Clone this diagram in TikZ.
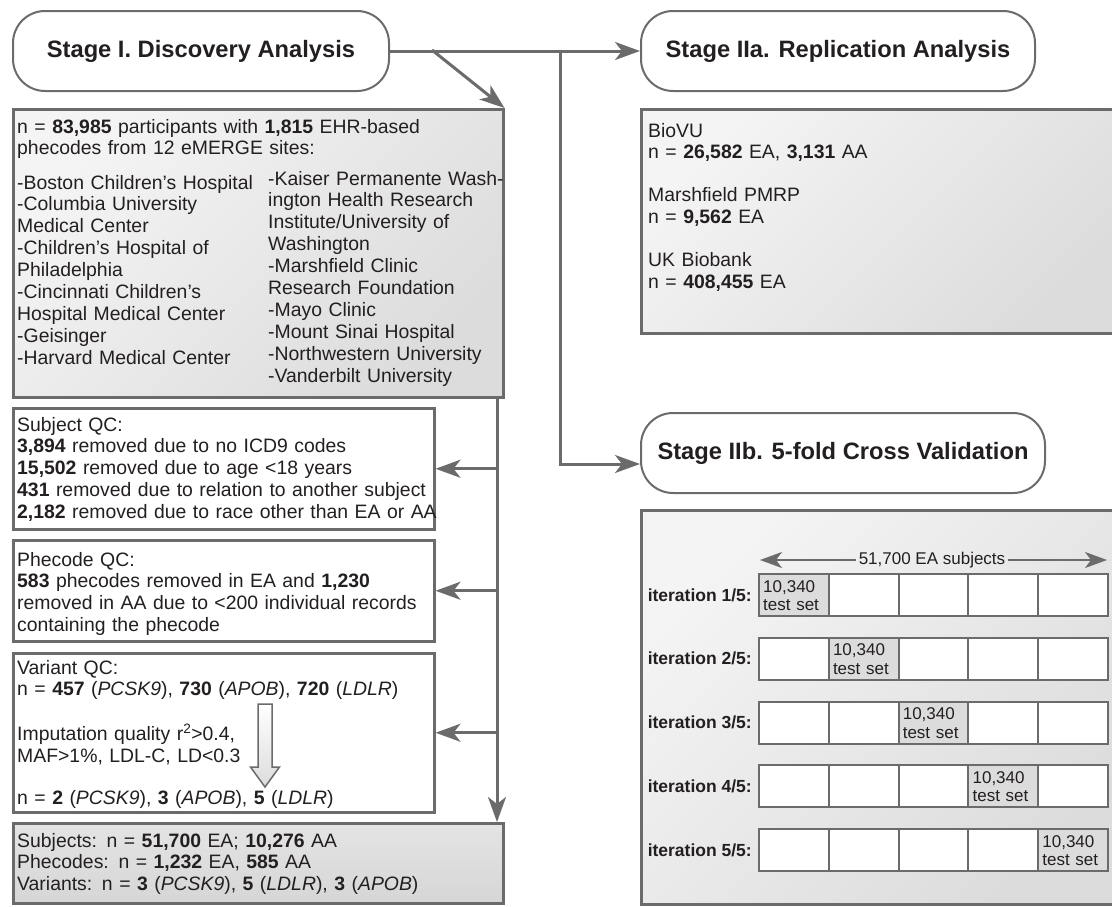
\documentclass[tikz,border=0pt]{standalone}
\usepackage{fontspec}
\setmainfont{Liberation Sans}
\usetikzlibrary{arrows.meta,positioning,calc}

\definecolor{linegray}{HTML}{6B6B6B}
\definecolor{boxlight}{HTML}{F4F4F4}
\definecolor{boxdark}{HTML}{DCDCDC}
\definecolor{finallight}{HTML}{E4E4E4}
\definecolor{finaldark}{HTML}{D6D6D6}
\definecolor{testgray}{HTML}{DCDCDC}
\definecolor{inkgray}{HTML}{231F20}

\newcommand{\bodyfont}{\fontsize{19.4}{21.9}\selectfont}
\newcommand{\titlefont}{\fontsize{23.7}{28}\selectfont\bfseries}
\newcommand{\gridfont}{\fontsize{17}{18.5}\selectfont}

\tikzset{
  stagebox/.style={draw=linegray, line width=2pt, rounded corners=32pt, fill=white,
    inner sep=0pt, anchor=north west, minimum height=80pt, font=\titlefont, text=inkgray},
  plainbox/.style={draw=linegray, line width=2.5pt, fill=white, inner sep=0pt, anchor=north west},
  shadebox/.style={plainbox, top color=boxlight, bottom color=boxdark, shading angle=45},
  boxtext/.style={anchor=base west, inner sep=0pt, align=left, text width=#1, font=\bodyfont, text=inkgray},
  boxtext/.default=480pt,
  conn/.style={draw=linegray, line width=3pt, -{Stealth[length=25pt,width=18pt,inset=7pt]}},
  spanarrow/.style={draw=linegray, line width=2pt, -{Stealth[length=22pt,width=16pt,inset=6pt]}},
  cell/.style={draw=linegray, line width=2pt, fill=white, minimum width=69.8pt,
    minimum height=42pt, inner sep=0pt, anchor=north west},
  testcell/.style={cell, fill=testgray},
  celltext/.style={anchor=base west, inner sep=0pt, align=left, text width=62pt, font=\gridfont, text=inkgray},
  itlabel/.style={anchor=east, inner sep=0pt, font=\fontsize{17.5}{20}\selectfont\bfseries, text=inkgray},
}

\begin{document}
\begin{tikzpicture}[x=1pt, y=-1pt]
  \useasboundingbox (0,0) rectangle (1112,906);

  % stage headers
  \node[stagebox, minimum width=376pt] (stageI) at (12,10) {Stage I. Discovery Analysis};
  \node[stagebox, minimum width=394pt] (stageIIa) at (640,10) {Stage IIa. Replication Analysis};
  \node[stagebox, minimum width=404pt] (stageIIb) at (640,412) {Stage IIb. 5-fold Cross Validation};

  % discovery column
  \node[shadebox, minimum width=490pt, minimum height=288pt] (disc) at (12,108) {};
  \node[boxtext] (disctop) at (17,133) {n = \textbf{83,985} participants with \textbf{1,815} EHR-based\\
    phecodes from 12 eMERGE sites:};
  \node[boxtext=300pt] (sitesL) at (17,189) {-Boston Children’s Hospital\\-Columbia University\\
    Medical Center\\-Children’s Hospital of\\Philadelphia\\-Cincinnati Children’s\\
    Hospital Medical Center\\-Geisinger\\-Harvard Medical Center};
  \node[boxtext=300pt] (sitesR) at (268,185) {-Kaiser Permanente Wash-\\ington Health Research\\
    Institute/University of\\Washington\\-Marshfield Clinic\\Research Foundation\\
    -Mayo Clinic\\-Mount Sinai Hospital\\-Northwestern University\\-Vanderbilt University};

  \node[plainbox, minimum width=421pt, minimum height=121pt] (subjqc) at (12,407) {};
  \node[boxtext] (subjtxt) at (17,431) {Subject QC:\\
    \textbf{3,894} removed due to no ICD9 codes\\
    \textbf{15,502} removed due to age <18 years\\
    \textbf{431} removed due to relation to another subject\\
    \textbf{2,182} removed due to race other than EA or AA};

  \node[plainbox, minimum width=421pt, minimum height=101pt] (phecqc) at (12,539) {};
  \node[boxtext] (phectxt) at (17,566) {Phecode QC:\\
    \textbf{583} phecodes removed in EA and \textbf{1,230}\\
    removed in AA due to <200 individual records\\
    containing the phecode};

  \node[plainbox, minimum width=421pt, minimum height=159pt] (varqc) at (12,652) {};
  \node[boxtext] (vartxt) at (17,674) {Variant QC:\\
    n = \textbf{457} (\textit{PCSK9}), \textbf{730} (\textit{APOB}), \textbf{720} (\textit{LDLR})\\[23pt]
    Imputation quality r\textsuperscript{2}>0.4,\\
    MAF>1\%, LDL-C, LD<0.3\\[20pt]
    n = \textbf{2} (\textit{PCSK9}), \textbf{3} (\textit{APOB}), \textbf{5} (\textit{LDLR})};
  \draw[draw=linegray, line width=1.5pt, top color=white, bottom color=boxdark]
    (258,704) -- (272,704) -- (272,767) -- (279.5,767) -- (265,787)
    -- (250.5,767) -- (258,767) -- cycle;

  \node[shadebox, minimum width=490pt, minimum height=80pt,
    top color=finallight, bottom color=finaldark] (final) at (12,822) {};
  \node[boxtext] (finaltxt) at (17,847) {Subjects: n = \textbf{51,700} EA; \textbf{10,276} AA\\
    Phecodes: n = \textbf{1,232} EA, \textbf{585} AA\\
    Variants: n = \textbf{3} (\textit{PCSK9}), \textbf{5} (\textit{LDLR}), \textbf{3} (\textit{APOB})};

  % replication
  \node[shadebox, minimum width=480pt, minimum height=224pt] (repl) at (640,108) {};
  \node[boxtext=400pt] (repltxt) at (648,137) {BioVU\\
    n = \textbf{26,582} EA, \textbf{3,131} AA\\[21pt]
    Marshfield PMRP\\
    n = \textbf{9,562} EA\\[21pt]
    UK Biobank\\
    n = \textbf{408,455} EA};

  % cross validation
  \node[shadebox, minimum width=480pt, minimum height=394pt] (cv) at (640,509) {};
  \coordinate (spanL) at (760,560);
  \coordinate (spanR) at (1107,560);
  \node[inner xsep=3pt, inner ysep=0pt, font=\gridfont, text=inkgray] (span) at (932,560) {51,700 EA subjects};
  \draw[spanarrow] (span.west) -- (spanL);
  \draw[spanarrow] (span.east) -- (spanR);

  \foreach \r in {1,...,5}{
    \foreach \c in {1,...,5}{
      \ifnum\c=\r \def\cellkind{testcell}\else\def\cellkind{cell}\fi
      \node[\cellkind] (c\r\c) at ({758+69.8*(\c-1)},{573+63.75*(\r-1)}) {};
    }
    \node[celltext] (t\r) at ([xshift=5pt,yshift=-19pt]c\r\r.north west) {10,340\\test set};
    \node[itlabel] (it\r) at ([xshift=-6pt]c\r1.west) {iteration \r/5:};
  }

  % connectors
  \coordinate (fork) at (432,50);
  \coordinate (branch) at (560,50);
  \coordinate (trunk) at (497,396);
  \draw[conn] (stageI.east) -- (stageIIa.west);
  \draw[conn] (fork) -- (disc.north east);
  \draw[conn] (branch) |- ([yshift=-11pt]stageIIb.west);
  \draw[conn] (trunk) -- (trunk |- final.north);
  \draw[conn] (trunk |- subjqc.east) -- (subjqc.east);
  \draw[conn] (trunk |- phecqc.east) -- (phecqc.east);
  \draw[conn] (trunk |- varqc.east) -- (varqc.east);
\end{tikzpicture}
\end{document}
